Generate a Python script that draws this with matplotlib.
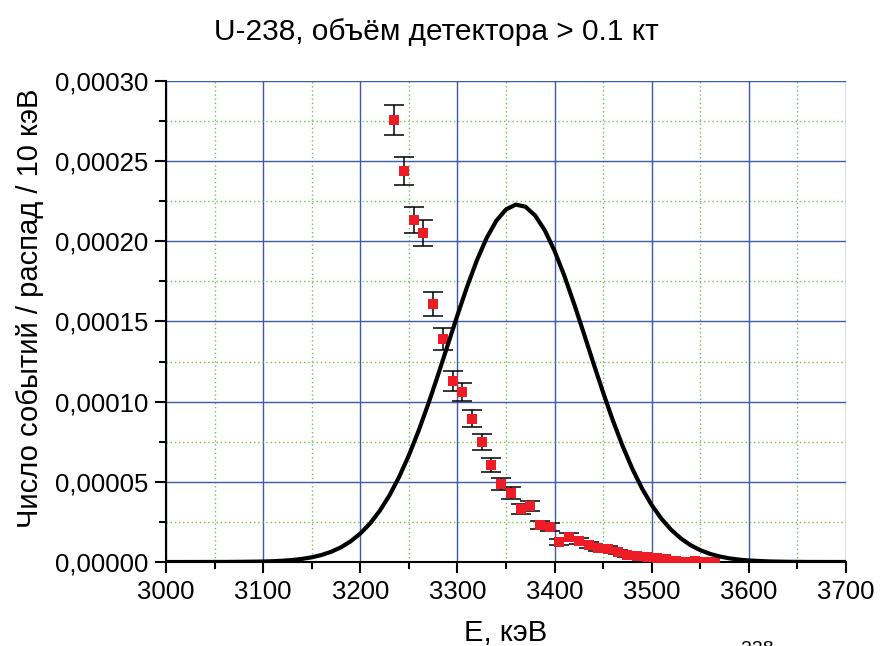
import matplotlib
matplotlib.use('Agg')
import matplotlib.pyplot as plt
from matplotlib.ticker import MultipleLocator, FuncFormatter

plt.rcParams['font.family'] = ['Liberation Sans', 'DejaVu Sans']

# measured spectrum, 10 keV bins (values in 1e-5 events / decay / 10 keV)
E_pts = [3235, 3245, 3255, 3265, 3275, 3285, 3295, 3305, 3315, 3325, 3335, 3345,
         3355, 3365, 3375, 3385, 3395, 3405, 3415, 3425, 3435, 3445, 3455, 3465,
         3475, 3485, 3495, 3505, 3515, 3525, 3535, 3545, 3555, 3565]
y_pts = [27.57, 24.39, 21.33, 20.52, 16.09, 13.91, 11.29, 10.60, 8.92, 7.48, 6.05, 4.87,
         4.30, 3.30, 3.49, 2.31, 2.18, 1.25, 1.56, 1.31, 1.06, 0.87, 0.81, 0.62,
         0.44, 0.37, 0.31, 0.25, 0.19, 0.06, 0.00, 0.06, 0.00, 0.00]
y_err = [0.94, 0.88, 0.83, 0.81, 0.72, 0.67, 0.60, 0.58, 0.53, 0.49, 0.44, 0.40,
         0.37, 0.33, 0.33, 0.27, 0.26, 0.20, 0.22, 0.20, 0.18, 0.17, 0.16, 0.14,
         0.12, 0.11, 0.10, 0.09, 0.08, 0.05, 0.03, 0.05, 0.03, 0.03]

# black curve (values in 1e-5)
E_line = [3000, 3020, 3040, 3060, 3080, 3100, 3110, 3120, 3130, 3140, 3150, 3160, 3170,
          3180, 3190, 3200, 3210, 3220, 3230, 3240, 3250, 3260, 3270, 3280, 3290,
          3300, 3310, 3320, 3330, 3340, 3350, 3360, 3370, 3380, 3390, 3400, 3410,
          3420, 3430, 3440, 3450, 3460, 3470, 3480, 3490, 3500, 3510, 3520, 3530,
          3540, 3550, 3560, 3570, 3580, 3590, 3600, 3620, 3640, 3660, 3680, 3700]
y_line = [0.0, 0.0, 0.002, 0.005, 0.013, 0.030, 0.049, 0.078, 0.124, 0.192, 0.292, 0.435, 0.637,
          0.914, 1.286, 1.775, 2.40, 3.19, 4.15, 5.31, 6.65, 8.18, 9.86, 11.66, 13.53,
          15.39, 17.18, 18.81, 20.20, 21.28, 21.99, 22.29, 22.16, 21.61, 20.68, 19.40, 17.86,
          16.12, 14.28, 12.40, 10.57, 8.83, 7.24, 5.82, 4.59, 3.55, 2.70, 2.01, 1.47,
          1.05, 0.738, 0.508, 0.343, 0.228, 0.148, 0.095, 0.036, 0.013, 0.004, 0.001, 0.0]

sc = 1e-5

fig = plt.figure(figsize=(8.81, 6.46), dpi=100)
ax = fig.add_axes([166/881, 84/646, 680/881, 481/646])

ax.errorbar(E_pts, [v*sc for v in y_pts], yerr=[v*sc for v in y_err], fmt='none',
            ecolor='black', elinewidth=1.1, capsize=7, capthick=1.1, zorder=3)
ax.plot(E_pts, [v*sc for v in y_pts], 's', color='#EE1C24', markersize=7.5,
        markeredgewidth=0, zorder=4)
ax.plot(E_line, [v*sc for v in y_line], color='black', lw=3, zorder=5)

ax.set_xlim(3000, 3700)
ax.set_ylim(0, 0.0003)
ax.xaxis.set_major_locator(MultipleLocator(100))
ax.xaxis.set_minor_locator(MultipleLocator(50))
ax.yaxis.set_major_locator(MultipleLocator(0.00005))
ax.yaxis.set_minor_locator(MultipleLocator(0.000025))
ax.yaxis.set_major_formatter(FuncFormatter(lambda v, p: ('%.5f' % v).replace('.', ',')))

ax.grid(which='major', color='#3B5BA8', lw=1.0, ls='-')
ax.grid(which='minor', color='#6CC24A', lw=1.0, ls=(0, (1, 2)))
ax.set_axisbelow(True)

for s in ['top', 'right']:
    ax.spines[s].set_visible(False)
for s in ['left', 'bottom']:
    ax.spines[s].set_linewidth(1.5)

ax.tick_params(which='major', length=8, width=1.5, labelsize=18.5, pad=5)
ax.tick_params(which='minor', length=5, width=1.5)

fig.text(436/881, 1 - 32/646, 'U-238, объём детектора > 0.1 кт', ha='center', va='center', fontsize=21.5)
fig.text(30/881, 1 - 308/646, 'Число событий / распад / 10 кэВ', rotation=90,
         ha='center', va='center', fontsize=21)
fig.text(506/881, 1 - 633/646, 'E, кэВ', ha='center', va='center', fontsize=21)
# label of the next panel, cut by the lower edge as in the original
fig.text(757/881, 1 - 641/646, '238', ha='center', va='top', fontsize=14)

fig.savefig('out.png', dpi=100)
